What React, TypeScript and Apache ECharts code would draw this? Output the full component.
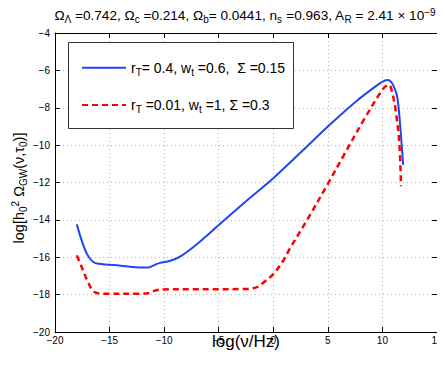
import React, { useEffect, useRef } from "react";
import * as echarts from "echarts";

const FONT = "Liberation Sans, Arial, Helvetica, sans-serif";

const xMin = -20;
const xMax = 15;
const xStep = 5;
const yMin = -20;
const yMax = -4;
const yStep = 2;

const seriesNames = ["r_T=0.4, w_t=0.6, Sigma=0.15", "r_T=0.01, w_t=1, Sigma=0.3"];
const legendRich = [
  "r{sub|T}= 0.4, w{sub|t} =0.6,  Σ =0.15",
  "r{sub|T} =0.01, w{sub|t} =1, Σ =0.3",
];

const blueLogNu = [
  -18, -17.5, -17, -16.5, -16, -14, -12, -11.5, -11, -10.4, -9.5, -8.5, -7, -5, -2.5, 0, 2.5, 5, 7.5,
  9.5, 10.2, 10.5, 10.9, 11.2, 11.35, 11.5, 11.7, 11.9,
];
const blueLogOmega = [
  -14.24, -15.2, -15.9, -16.25, -16.35, -16.45, -16.55, -16.55, -16.45, -16.3, -16.2, -15.95, -15.3,
  -14.28, -13.0, -11.77, -10.4, -9.0, -7.7, -6.8, -6.55, -6.52, -6.7, -7.1, -7.4, -8.1, -9.5, -11.06,
];

const redLogNu = [
  -18, -17.5, -17, -16.4, -15.5, -12, -11.5, -10.8, -10, -2.5, -1.5, -1, 0, 1, 1.5, 3, 5, 6.5, 8.3,
  9.8, 10.2, 10.6, 10.9, 11.2, 11.55, 11.7,
];
const redLogOmega = [
  -15.9, -16.6, -17.3, -17.86, -17.95, -17.95, -17.93, -17.78, -17.72, -17.7, -17.6, -17.4, -16.9,
  -16.1, -15.55, -14.1, -12.07, -10.5, -8.64, -7.2, -6.9, -6.77, -7.2, -8.1, -9.9, -12.2,
];

const titleRich =
  "Ω{sub|Λ} =0.742, Ω{sub|c} =0.214, Ω{sub|b}= 0.0441, n{sub|s} =0.963, A{sub|R} = 2.41 × 10{sup|−9}";
const yTitleRich = "log[h{sub|0}{sup|2} Ω{sub|GW}(ν,τ{sub|0})]";
const xTitle = "log(ν/Hz)";

const minusFmt = (v: number) => String(v).replace("-", "−");

export default function App() {
  const ref = useRef<HTMLDivElement>(null);

  useEffect(() => {
    if (!ref.current) return;
    const chart = echarts.init(ref.current, undefined, { renderer: "svg" });

    const tick = { show: true, inside: true, length: 5, lineStyle: { color: "#000", width: 1 } };
    const axisLine = { show: true, onZero: false, lineStyle: { color: "#000", width: 1 } };
    const split = { show: true, lineStyle: { color: "#b4b4b4", type: [1, 3] as any, width: 1 } };

    const option: any = {
      animation: false,
      textStyle: { fontFamily: FONT },
      grid: {
        left: 55,
        right: 8,
        top: 33,
        bottom: 33,
        containLabel: false,
        outerBoundsMode: "none",
      },
      legend: {
        orient: "vertical",
        left: 76,
        top: 54,
        itemWidth: 44,
        itemHeight: 22,
        itemGap: 19,
        z: 20,
        data: seriesNames,
        itemStyle: { opacity: 0 },
        formatter: (name: string) => legendRich[seriesNames.indexOf(name)],
        textStyle: {
          fontFamily: FONT,
          fontSize: 14,
          color: "#000",
          rich: {
            sub: { fontFamily: FONT, fontSize: 10, color: "#000", padding: [9, 0, 0, 0] },
          },
        },
      },
      xAxis: [
        {
          type: "value",
          min: xMin,
          max: xMax,
          interval: xStep,
          position: "bottom",
          name: xTitle,
          nameLocation: "middle",
          nameGap: 1,
          nameMoveOverlap: false,
          nameTextStyle: { fontFamily: FONT, fontSize: 17, color: "#000", verticalAlign: "top" },
          axisLine,
          axisTick: tick,
          axisLabel: { fontFamily: FONT, fontSize: 10, color: "#000", margin: 3, formatter: minusFmt },
          splitLine: split,
        },
        {
          type: "value",
          min: xMin,
          max: xMax,
          interval: xStep,
          position: "top",
          axisLine,
          axisTick: tick,
          axisLabel: { show: false },
          splitLine: { show: false },
        },
      ],
      yAxis: [
        {
          type: "value",
          min: yMin,
          max: yMax,
          interval: yStep,
          position: "left",
          axisLine,
          axisTick: tick,
          axisLabel: { fontFamily: FONT, fontSize: 10, color: "#000", margin: 5, formatter: minusFmt },
          splitLine: split,
        },
        {
          type: "value",
          min: yMin,
          max: yMax,
          interval: yStep,
          position: "right",
          axisLine,
          axisTick: tick,
          axisLabel: { show: false },
          splitLine: { show: false },
        },
      ],
      graphic: [
        {
          type: "rect",
          shape: { x: 68.5, y: 42.5, width: 225, height: 86 },
          style: { fill: "#fff", stroke: "#333", lineWidth: 1 },
          z: 1,
        },
        {
          type: "text",
          x: 245,
          y: 7,
          style: {
            text: titleRich,
            fontFamily: FONT,
            fontSize: 13.6,
            fill: "#000",
            align: "center",
            rich: {
              sub: { fontFamily: FONT, fontSize: 10, fill: "#000", padding: [7, 0, 0, 0] },
              sup: { fontFamily: FONT, fontSize: 10, fill: "#000", padding: [0, 0, 7, 0] },
            },
          },
          z: 10,
        },
        {
          type: "text",
          x: 19,
          y: 188,
          rotation: Math.PI / 2,
          style: {
            text: yTitleRich,
            fontFamily: FONT,
            fontSize: 14.5,
            fill: "#000",
            align: "center",
            verticalAlign: "middle",
            rich: {
              sub: { fontFamily: FONT, fontSize: 10, fill: "#000", padding: [8, 0, 0, 0] },
              sup: { fontFamily: FONT, fontSize: 10, fill: "#000", padding: [0, 0, 8, 0] },
            },
          },
          z: 10,
        },
      ],
      series: [
        {
          name: seriesNames[0],
          type: "line",
          xAxisIndex: 0,
          yAxisIndex: 0,
          data: blueLogNu.map((x, i) => [x, blueLogOmega[i]]),
          symbol: "none",
          smooth: 0.35,
          lineStyle: { color: "#2343f5", width: 2 },
          itemStyle: { color: "#2343f5" },
          z: 3,
        },
        {
          name: seriesNames[1],
          type: "line",
          xAxisIndex: 0,
          yAxisIndex: 0,
          data: redLogNu.map((x, i) => [x, redLogOmega[i]]),
          symbol: "none",
          smooth: 0.35,
          lineStyle: { color: "#ff0000", width: 2.5, type: [6, 4] },
          itemStyle: { color: "#ff0000" },
          z: 3,
        },
      ],
    };

    chart.setOption(option);
    return () => chart.dispose();
  }, []);

  return <div ref={ref} style={{ width: 445, height: 365, margin: -8 }} />;
}
